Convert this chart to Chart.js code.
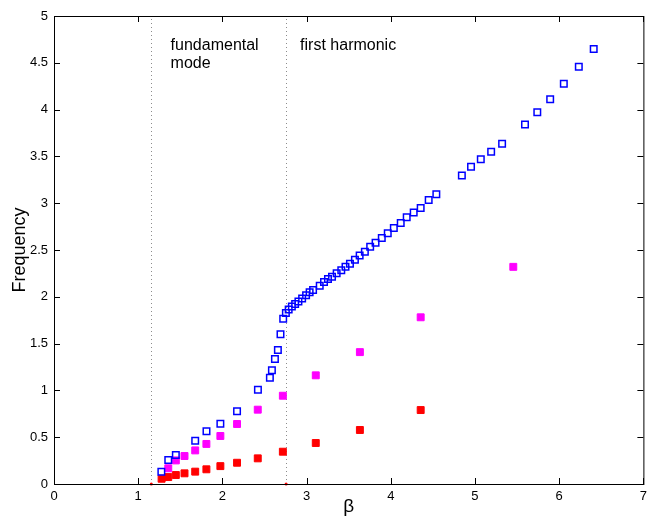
<!DOCTYPE html>
<html>
<head>
<meta charset="utf-8">
<script src="https://cdn.jsdelivr.net/npm/chart.js@4/dist/chart.umd.min.js"></script>
<style>
  html, body { margin: 0; padding: 0; background: #fff; }
  #wrap { width: 652px; height: 522px; }
</style>
</head>
<body>
<div id="wrap"><canvas id="chart"></canvas></div>
<script>
// values
const blueBeta = [1.275, 1.357, 1.447, 1.677, 1.811, 1.976, 2.174, 2.422, 2.564, 2.588,
  2.624, 2.659, 2.690, 2.722, 2.754, 2.787, 2.825, 2.864, 2.903, 2.947,
  2.994, 3.036, 3.077, 3.156, 3.207, 3.254, 3.302, 3.357, 3.412, 3.462,
  3.515, 3.574, 3.630, 3.692, 3.755, 3.819, 3.893, 3.964, 4.036, 4.118,
  4.189, 4.272, 4.355, 4.450, 4.541, 4.844, 4.953, 5.069, 5.192, 5.322,
  5.594, 5.740, 5.893, 6.055, 6.233, 6.410];
const blueFreq = [0.131, 0.257, 0.310, 0.463, 0.564, 0.644, 0.776, 1.007, 1.136, 1.215,
  1.335, 1.432, 1.599, 1.766, 1.827, 1.864, 1.896, 1.923, 1.949, 1.982,
  2.016, 2.048, 2.072, 2.118, 2.158, 2.190, 2.215, 2.251, 2.284, 2.322,
  2.354, 2.396, 2.442, 2.482, 2.535, 2.578, 2.628, 2.678, 2.735, 2.789,
  2.849, 2.900, 2.949, 3.034, 3.095, 3.296, 3.390, 3.469, 3.550, 3.635,
  3.842, 3.971, 4.110, 4.276, 4.458, 4.648];

const magentaBeta = [1.357, 1.447, 1.550, 1.677, 1.810, 1.976, 2.174, 2.420, 2.718, 3.109, 3.633, 4.355, 5.455];
const magentaFreq = [0.168, 0.252, 0.299, 0.359, 0.428, 0.513, 0.641, 0.794, 0.943, 1.161, 1.409, 1.781, 2.320];

const redBeta = [1.278, 1.357, 1.447, 1.550, 1.677, 1.810, 1.976, 2.174, 2.420, 2.718, 3.109, 3.633, 4.355];
const redFreq = [0.056, 0.074, 0.096, 0.114, 0.132, 0.157, 0.191, 0.227, 0.274, 0.345, 0.438, 0.577, 0.790];

// cut-off lines between the modes
const cutoffBeta = [1.156, 2.757];

const xTicks = [0, 1, 2, 3, 4, 5, 6, 7];
const xTickLabels = ['0', '1', '2', '3', '4', '5', '6', '7'];
const yTicks = [0, 0.5, 1, 1.5, 2, 2.5, 3, 3.5, 4, 4.5, 5];
const yTickLabels = ['0', '0.5', '1', '1.5', '2', '2.5', '3', '3.5', '4', '4.5', '5'];

const noteTexts = ['fundamental', 'mode', 'first harmonic'];
const noteBeta = [1.385, 1.385, 2.923];
const noteFreq = [4.637, 4.444, 4.637];

const FONT = '"Liberation Sans", Arial, Helvetica, sans-serif';

const toPoints = (xs, ys) => xs.map((x, i) => ({ x: x, y: ys[i] }));

// box, inward ticks, dotted cut-offs and the two notes
const framePlugin = {
  id: 'frame',
  beforeDatasetsDraw(chart) {
    const { ctx, chartArea, scales } = chart;
    ctx.save();
    ctx.strokeStyle = '#8c8c8c';
    ctx.lineWidth = 1;
    ctx.setLineDash([1, 3]);
    cutoffBeta.forEach(b => {
      const px = Math.round(scales.x.getPixelForValue(b)) + 0.5;
      ctx.beginPath();
      ctx.moveTo(px, chartArea.bottom);
      ctx.lineTo(px, chartArea.top);
      ctx.stroke();
    });
    ctx.restore();
  },
  afterDraw(chart) {
    const { ctx, chartArea, scales } = chart;
    const { left, right, top, bottom } = chartArea;
    const len = 6;
    ctx.save();
    ctx.strokeStyle = '#000';
    ctx.lineWidth = 1;
    ctx.strokeRect(left + 0.5, top + 0.5, right - left, bottom - top);

    ctx.beginPath();
    xTicks.forEach(v => {
      const px = Math.round(scales.x.getPixelForValue(v)) + 0.5;
      ctx.moveTo(px, bottom); ctx.lineTo(px, bottom - len);
      ctx.moveTo(px, top); ctx.lineTo(px, top + len);
    });
    yTicks.forEach(v => {
      const py = Math.round(scales.y.getPixelForValue(v)) + 0.5;
      ctx.moveTo(left, py); ctx.lineTo(left + len, py);
      ctx.moveTo(right, py); ctx.lineTo(right - len, py);
    });
    ctx.stroke();

    ctx.fillStyle = '#000';
    ctx.font = '16px ' + FONT;
    ctx.textAlign = 'left';
    ctx.textBaseline = 'alphabetic';
    noteTexts.forEach((t, i) => {
      ctx.fillText(t, scales.x.getPixelForValue(noteBeta[i]), scales.y.getPixelForValue(noteFreq[i]));
    });
    ctx.restore();
  }
};

new Chart(document.getElementById('chart'), {
  type: 'scatter',
  data: {
    datasets: [
      {
        label: 'blue',
        data: toPoints(blueBeta, blueFreq),
        pointStyle: 'rect',
        pointRadius: 4.6,
        borderColor: '#0000ff',
        backgroundColor: 'rgba(0,0,0,0)',
        borderWidth: 1.5,
        clip: false
      },
      {
        label: 'magenta',
        data: toPoints(magentaBeta, magentaFreq),
        pointStyle: 'rect',
        pointRadius: 4.9,
        borderColor: '#ff00ff',
        backgroundColor: '#ff00ff',
        borderWidth: 1,
        clip: false
      },
      {
        label: 'red',
        data: toPoints(redBeta, redFreq),
        pointStyle: 'rect',
        pointRadius: 4.9,
        borderColor: '#ff0000',
        backgroundColor: '#ff0000',
        borderWidth: 1,
        clip: false
      },
      {
        label: 'cutoff',
        data: cutoffBeta.map(b => ({ x: b, y: 0 })),
        pointStyle: 'circle',
        pointRadius: 1.5,
        borderWidth: 0,
        backgroundColor: '#ff0000',
        clip: false
      }
    ]
  },
  options: {
    responsive: true,
    maintainAspectRatio: false,
    animation: false,
    layout: { padding: { left: 0, right: 7, top: 16, bottom: 0 } },
    plugins: {
      legend: { display: false },
      tooltip: { enabled: false }
    },
    scales: {
      x: {
        type: 'linear',
        min: 0,
        max: 7,
        afterBuildTicks: s => { s.ticks = xTicks.map(v => ({ value: v })); },
        afterFit: s => { s.height = 38; },
        grid: { display: false, drawTicks: false },
        border: { display: false },
        ticks: {
          padding: 5,
          color: '#000',
          font: { family: FONT, size: 13 },
          callback: (v, i) => xTickLabels[i]
        },
        title: {
          display: true,
          text: 'β',
          color: '#000',
          font: { family: FONT, size: 19 },
          padding: { top: 0, bottom: 4 }
        }
      },
      y: {
        type: 'linear',
        min: 0,
        max: 5,
        afterBuildTicks: s => { s.ticks = yTicks.map(v => ({ value: v })); },
        afterFit: s => { s.width = 54; },
        grid: { display: false, drawTicks: false },
        border: { display: false },
        ticks: {
          padding: 6,
          color: '#000',
          font: { family: FONT, size: 13 },
          callback: (v, i) => yTickLabels[i]
        },
        title: {
          display: true,
          text: 'Frequency',
          color: '#000',
          font: { family: FONT, size: 18 },
          padding: { top: 9, bottom: 0 }
        }
      }
    }
  },
  plugins: [framePlugin]
});
</script>
</body>
</html>
